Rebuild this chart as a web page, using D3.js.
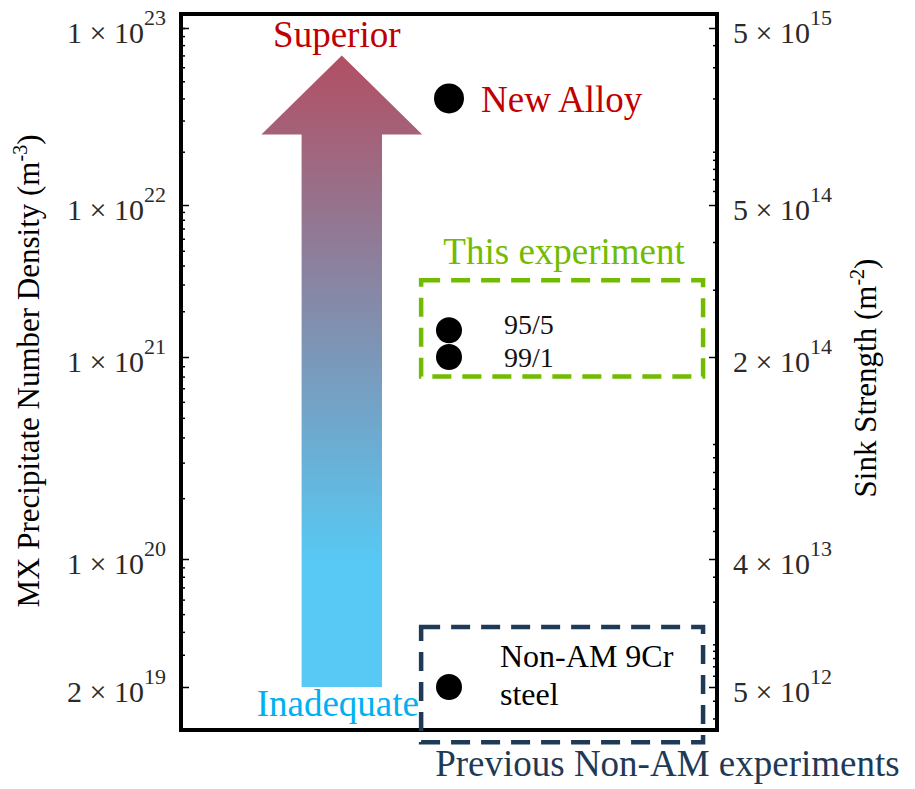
<!DOCTYPE html>
<html>
<head>
<meta charset="utf-8">
<script src="https://cdn.jsdelivr.net/npm/d3@7"></script>
<style>
body { margin: 0; background: #fff; }
</style>
</head>
<body>
<svg width="915" height="789"></svg>
<script>
// tick values (left: number density, right: sink strength at the same heights)
let leftTicks = [2e19, 1e20, 1e21, 1e22, 1e23];
let rightTicks = [5e12, 4e13, 2e14, 5e14, 5e15];

// data points
let pointNames = ["New Alloy", "95/5", "99/1", "Non-AM 9Cr steel"];
let pointX = [5, 5, 5, 5];
let pointDensity = [4e22, 1.5e21, 1e21, 2e19];

// dashed groups
let groupNames = ["This experiment", "Previous Non-AM experiments"];
let groupX = [[4.48, 9.74], [4.48, 9.74]];
let groupY = [[8e20, 3.2e21], [1e19, 4.25e19]];

// the big arrow: base, start of head, tip
let arrowLabels = ["Superior", "Inadequate"];
let arrowX = 3;
let arrowY = [2e19, 2.5e22, 7e22];

let svg = d3.select("svg")
    .attr("font-family", "'Liberation Serif', 'Times New Roman', Times, 'DejaVu Serif', serif");
let margin = {left: 181, right: 717, top: 14, bottom: 730};

let x = d3.scaleLinear().domain([0, 10]).range([margin.left, margin.right]);

// the axis is log within each decade, but decades are not equally spaced
let yLeft = d3.scaleLog().domain(leftTicks).range([687, 559, 357, 205, 28]);
let yRight = d3.scaleLog().domain(rightTicks).range([687, 559, 357, 205, 28]);

function minorTicks(scale, majors) {
    let lo = scale.invert(margin.bottom), hi = scale.invert(margin.top);
    let out = [];
    for (let e = Math.floor(Math.log10(lo)); e <= Math.ceil(Math.log10(hi)); e++) {
        for (let k = 1; k < 10; k++) {
            let v = k * Math.pow(10, e);
            if (v > lo && v < hi && majors.indexOf(v) < 0) out.push(v);
        }
    }
    return out;
}

// arrow gradient
let grad = svg.append("defs").append("linearGradient")
    .attr("id", "arrowGrad")
    .attr("x1", 0).attr("y1", 0).attr("x2", 0).attr("y2", 1);
grad.append("stop").attr("offset", "0%").attr("stop-color", "#b24f63");
grad.append("stop").attr("offset", "30%").attr("stop-color", "#8f7c98");
grad.append("stop").attr("offset", "80%").attr("stop-color", "#57c9f4");
grad.append("stop").attr("offset", "100%").attr("stop-color", "#57c9f4");

// arrow
let ax = x(arrowX);
let shaft = x(arrowX + 0.75) - ax;
let head = x(arrowX + 1.5) - ax;
let arrowPts = [
    [ax - shaft, yLeft(arrowY[0])],
    [ax - shaft, yLeft(arrowY[1])],
    [ax - head, yLeft(arrowY[1])],
    [ax, yLeft(arrowY[2])],
    [ax + head, yLeft(arrowY[1])],
    [ax + shaft, yLeft(arrowY[1])],
    [ax + shaft, yLeft(arrowY[0])]
];
svg.append("path")
    .attr("d", d3.line()(arrowPts) + "Z")
    .attr("fill", "url(#arrowGrad)");

svg.append("text")
    .attr("x", ax - 5).attr("y", yLeft(arrowY[2]) - 8)
    .attr("text-anchor", "middle")
    .attr("font-size", 37)
    .attr("fill", "#c00000")
    .text(arrowLabels[0]);
svg.append("text")
    .attr("x", ax - 4).attr("y", yLeft(arrowY[0]) + 29)
    .attr("text-anchor", "middle")
    .attr("font-size", 37)
    .attr("fill", "#00b0f0")
    .text(arrowLabels[1]);

// axes: ticks pointing inward
let leftAxis = svg.append("g").attr("transform", "translate(" + margin.left + ",0)");
leftAxis.call(d3.axisLeft(yLeft).tickValues(leftTicks).tickSize(-8).tickFormat(""));
leftAxis.append("g").call(d3.axisLeft(yLeft).tickValues(minorTicks(yLeft, leftTicks)).tickSize(-4).tickFormat(""));

let rightAxis = svg.append("g").attr("transform", "translate(" + margin.right + ",0)");
rightAxis.call(d3.axisRight(yRight).tickValues(rightTicks).tickSize(-8).tickFormat(""));
rightAxis.append("g").call(d3.axisRight(yRight).tickValues(minorTicks(yRight, rightTicks)).tickSize(-4).tickFormat(""));

svg.selectAll(".domain").remove();
svg.selectAll(".tick line").attr("stroke", "#000").attr("stroke-width", 1.5);

function sciLabel(sel, v) {
    let exp = Math.floor(Math.log10(v) + 1e-9);
    let mant = Math.round(v / Math.pow(10, exp));
    sel.append("tspan").text(mant + " \u00d7 10");
    sel.append("tspan").attr("font-size", 22).attr("dy", -18).text(exp);
}

leftTicks.forEach(function (v) {
    let t = svg.append("text")
        .attr("x", 166).attr("y", yLeft(v) + 15)
        .attr("text-anchor", "end")
        .attr("font-size", 30)
        .attr("fill", "#2a2a2a");
    sciLabel(t, v);
});
rightTicks.forEach(function (v) {
    let t = svg.append("text")
        .attr("x", 733).attr("y", yRight(v) + 15)
        .attr("font-size", 30)
        .attr("fill", "#2a2a2a");
    sciLabel(t, v);
});

// axis titles
let lt = svg.append("text")
    .attr("transform", "translate(39," + 371 + ") rotate(-90)")
    .attr("text-anchor", "middle")
    .attr("font-size", 31)
    .attr("fill", "#000");
lt.append("tspan").text("MX Precipitate Number Density (m");
lt.append("tspan").attr("font-size", 20).attr("dy", -12).text("-3");
lt.append("tspan").attr("dy", 12).text(")");

let rt = svg.append("text")
    .attr("transform", "translate(876," + 378 + ") rotate(-90)")
    .attr("text-anchor", "middle")
    .attr("font-size", 31)
    .attr("fill", "#000");
rt.append("tspan").text("Sink Strength (m");
rt.append("tspan").attr("font-size", 20).attr("dy", -12).text("-2");
rt.append("tspan").attr("dy", 12).text(")");

// frame
svg.append("rect")
    .attr("x", margin.left).attr("y", margin.top)
    .attr("width", margin.right - margin.left)
    .attr("height", margin.bottom - margin.top)
    .attr("fill", "none")
    .attr("stroke", "#000")
    .attr("stroke-width", 4);

// dashed group boxes
let groupColors = ["#72bb00", "#1e3a56"];
groupNames.forEach(function (g, i) {
    svg.append("rect")
        .attr("x", x(groupX[i][0]))
        .attr("y", yLeft(groupY[i][1]))
        .attr("width", x(groupX[i][1]) - x(groupX[i][0]))
        .attr("height", yLeft(groupY[i][0]) - yLeft(groupY[i][1]))
        .attr("fill", "none")
        .attr("stroke", groupColors[i])
        .attr("stroke-width", 4.5)
        .attr("stroke-dasharray", "19,11");
});
svg.append("text")
    .attr("x", (x(groupX[0][0]) + x(groupX[0][1])) / 2 + 2)
    .attr("y", yLeft(groupY[0][1]) - 16)
    .attr("text-anchor", "middle")
    .attr("font-size", 37)
    .attr("fill", groupColors[0])
    .text(groupNames[0]);
svg.append("text")
    .attr("x", x(groupX[1][0]) + 14)
    .attr("y", yLeft(groupY[1][0]) + 34)
    .attr("font-size", 37)
    .attr("fill", groupColors[1])
    .text(groupNames[1]);

// points
svg.selectAll("circle.pt")
    .data(pointNames)
    .enter()
    .append("circle")
    .attr("class", "pt")
    .attr("cx", function (d, i) { return x(pointX[i]); })
    .attr("cy", function (d, i) { return yLeft(pointDensity[i]); })
    .attr("r", function (d, i) { return i === 0 ? 15 : 13; })
    .attr("fill", "#000");

// point labels
svg.append("text")
    .attr("x", x(pointX[0]) + 32).attr("y", yLeft(pointDensity[0]) + 14)
    .attr("font-size", 37).attr("fill", "#c00000")
    .text(pointNames[0]);
[1, 2].forEach(function (i) {
    svg.append("text")
        .attr("x", x(pointX[i]) + 55).attr("y", yLeft(pointDensity[i]) + (i === 1 ? 4 : 10))
        .attr("font-size", 28).attr("fill", "#111")
        .text(pointNames[i]);
});
let na = svg.append("text")
    .attr("x", x(pointX[3]) + 51).attr("y", yLeft(pointDensity[3]) - 20)
    .attr("font-size", 32).attr("fill", "#000");
na.append("tspan").text("Non-AM 9Cr");
na.append("tspan").attr("x", x(pointX[3]) + 51).attr("dy", 38).text("steel");
</script>
</body>
</html>
